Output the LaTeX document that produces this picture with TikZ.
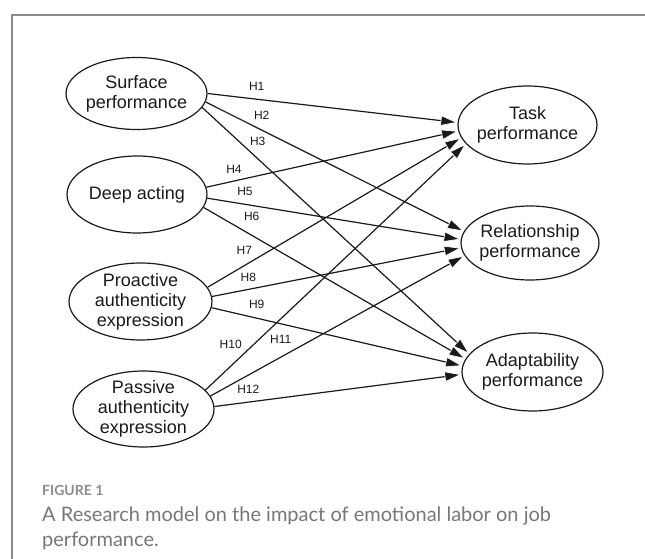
\documentclass[tikz,border=0pt]{standalone}
\usepackage{fontspec}
\setmainfont{Liberation Sans}
\newfontfamily\capfont{Lato}
\usetikzlibrary{shapes.geometric,arrows.meta}
\definecolor{ink}{HTML}{1A1A1A}
\definecolor{framegray}{HTML}{8C8C8C}
\definecolor{capgray}{HTML}{777777}
\tikzset{
  latent/.style={ellipse, draw=ink, line width=1.2pt, inner sep=-4pt, align=center,
    font=\fontsize{18pt}{20pt}\selectfont, text=ink},
  hlab/.style={font=\fontsize{12pt}{14pt}\selectfont, inner sep=0pt, text=ink},
  hyp/.style={draw=ink, line width=1.2pt,
    -{Triangle[length=17pt,width=10.5pt,fill=ink,color=white,line width=0.7pt]}},
  capstyle/.style={anchor=base west, inner sep=0pt, text=capgray}
}
\begin{document}
\begin{tikzpicture}[x=1pt,y=-1pt]
\useasboundingbox (0,0) rectangle (645,559);
% frame
\draw[framegray, line width=1.3pt] (645,15) -- (12,15) -- (12,559);
% latent variables
\node[latent, minimum width=141pt, minimum height=72pt] (sp) at (136.5,93.5) {Surface\\performance};
\node[latent, minimum width=140pt, minimum height=77pt] (da) at (137,194.5) {Deep acting};
\node[latent, minimum width=143pt, minimum height=77pt] (pa) at (140.5,301.5) {Proactive\\authenticity\\expression};
\node[latent, minimum width=141pt, minimum height=76pt] (pv) at (143.5,409) {Passive\\authenticity\\expression};
\node[latent, minimum width=139pt, minimum height=78pt] (tp) at (527.5,125) {Task\\performance};
\node[latent, minimum width=138pt, minimum height=74pt] (rp) at (530,243) {Relationship\\performance};
\node[latent, minimum width=141pt, minimum height=78pt] (ap) at (532.5,372) {Adaptability\\performance};
% hypotheses paths
\draw[hyp] (sp.0) -- (tp.178);
\draw[hyp] (sp.353) -- (rp.170);
\draw[hyp] (sp.348) -- (ap.164);
\draw[hyp] (da.6) -- (tp.185);
\draw[hyp] (da.357) -- (rp.177);
\draw[hyp] (da.349) -- (ap.169);
\draw[hyp] (pa.12) -- (tp.191);
\draw[hyp] (pa.4) -- (rp.184);
\draw[hyp] (pa.355) -- (ap.175);
\draw[hyp] (pv.17) -- (tp.197);
\draw[hyp] (pv.11) -- (rp.191);
\draw[hyp] (pv.2) -- (ap.182);
% labels
\node[hlab] (h1) at (256.7,86.7) {H1};
\node[hlab] (h2) at (261.7,115) {H2};
\node[hlab] (h3) at (257.7,141.7) {H3};
\node[hlab] (h4) at (234,169.3) {H4};
\node[hlab] (h5) at (245,191.7) {H5};
\node[hlab] (h6) at (251.7,216.7) {H6};
\node[hlab] (h7) at (244.3,250) {H7};
\node[hlab] (h8) at (248.3,277.7) {H8};
\node[hlab] (h9) at (256.7,304.3) {H9};
\node[hlab] (h10) at (230.7,344) {H10};
\node[hlab] (h11) at (280.7,339.3) {H11};
\node[hlab] (h12) at (248.3,389.3) {H12};
% caption
\node[capstyle, font=\capfont\bfseries\fontsize{14pt}{16pt}\selectfont, text=framegray] (fig) at (42,495) {FIGURE 1};
\node[capstyle, font=\capfont\fontsize{20pt}{24pt}\selectfont] (cap1) at (42,521) {A Research model on the impact of emotional labor on job};
\node[capstyle, font=\capfont\fontsize{20pt}{24pt}\selectfont] (cap2) at (42,546) {performance.};
\end{tikzpicture}
\end{document}
